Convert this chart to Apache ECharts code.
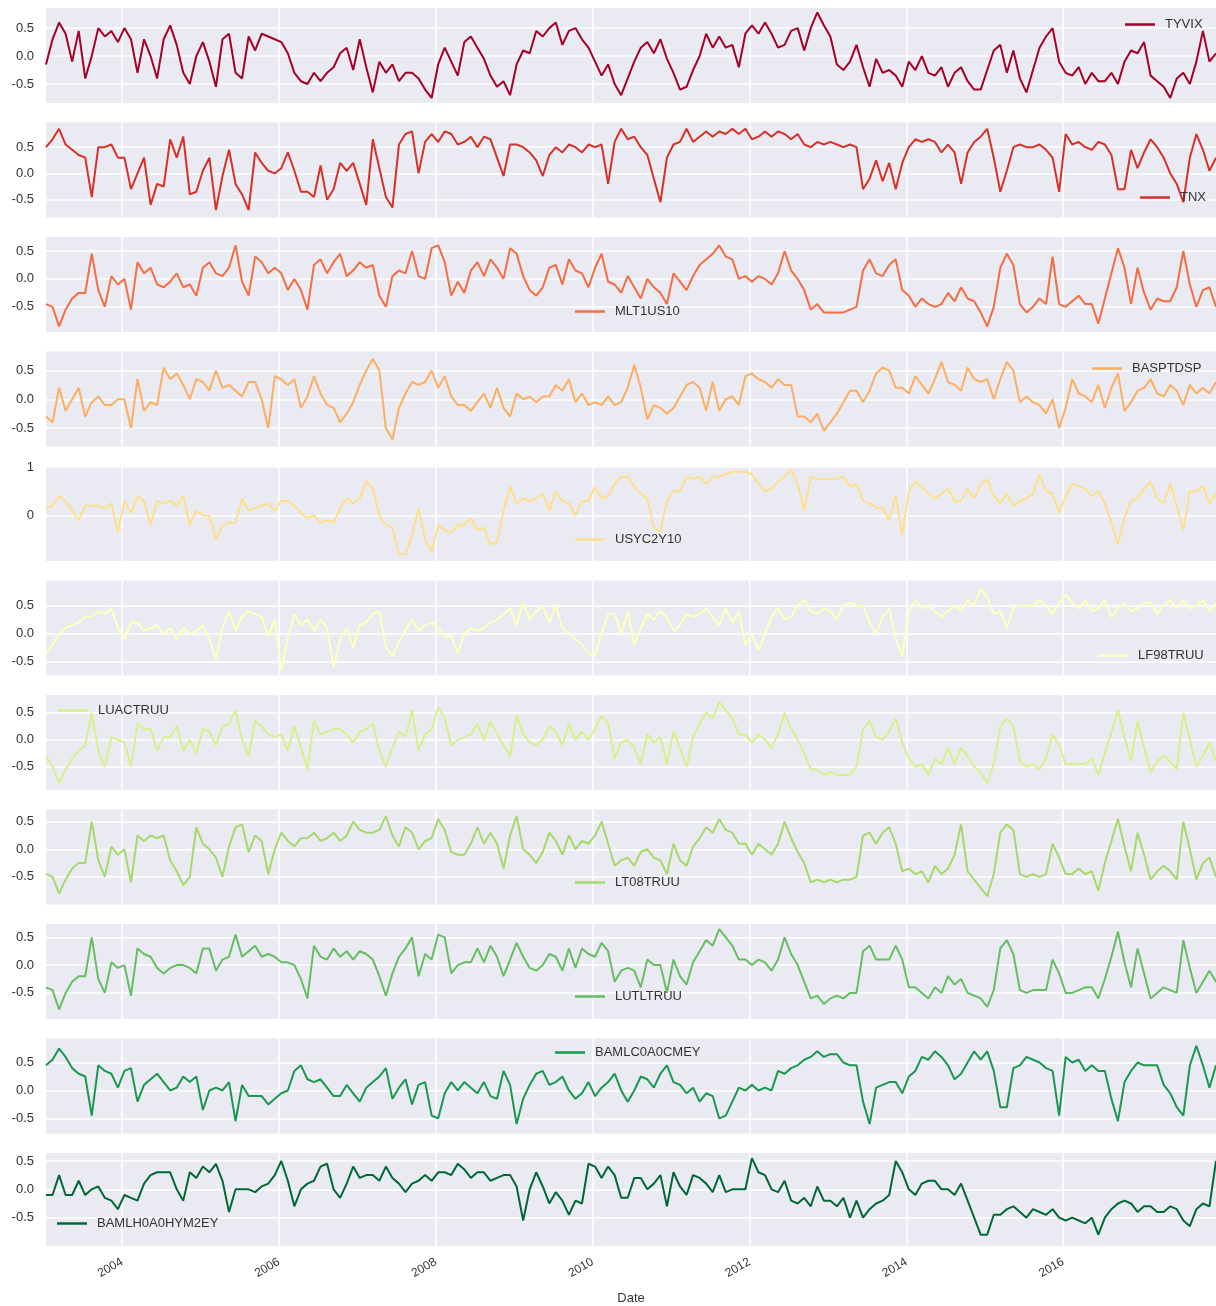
<!DOCTYPE html>
<html>
<head>
<meta charset="utf-8">
<title>Rolling correlations</title>
<script src="https://cdn.jsdelivr.net/npm/echarts@6/dist/echarts.min.js"></script>
<style>
  html, body { margin: 0; padding: 0; background: #ffffff; }
  #chart { width: 1216px; height: 1306px; }
</style>
</head>
<body>
<div id="chart"></div>
<script>
// Monthly observations, January 2003 to December 2017
const START_YEAR = 2003;
const MONTHS = 180;

const seriesNames = ['TYVIX', 'TNX', 'MLT1US10', 'BASPTDSP', 'USYC2Y10', 'LF98TRUU',
  'LUACTRUU', 'LT08TRUU', 'LUTLTRUU', 'BAMLC0A0CMEY', 'BAMLH0A0HYM2EY'];

const TYVIX = [
  -0.15, 0.3, 0.6, 0.4, -0.1, 0.45, -0.4, 0.0, 0.5, 0.35, 0.45, 0.25,
  0.5, 0.3, -0.3, 0.3, 0.0, -0.4, 0.3, 0.55, 0.2, -0.3, -0.5, 0.0,
  0.25, -0.1, -0.55, 0.3, 0.4, -0.3, -0.4, 0.35, 0.1, 0.4, 0.35, 0.3,
  0.25, 0.05, -0.3, -0.45, -0.5, -0.3, -0.45, -0.3, -0.2, 0.05, 0.15, -0.25,
  0.3, -0.2, -0.65, -0.1, -0.3, -0.15, -0.45, -0.3, -0.3, -0.4, -0.6, -0.75,
  -0.15, 0.15, -0.1, -0.35, 0.25, 0.35, 0.15, -0.05, -0.35, -0.55, -0.45, -0.7,
  -0.15, 0.1, 0.05, 0.45, 0.35, 0.5, 0.6, 0.2, 0.45, 0.5, 0.3, 0.15,
  -0.1, -0.35, -0.15, -0.5, -0.7, -0.4, -0.1, 0.15, 0.25, 0.05, 0.3, -0.05,
  -0.3, -0.6, -0.55, -0.25, 0.0, 0.4, 0.15, 0.35, 0.15, 0.2, -0.2, 0.4,
  0.55, 0.4, 0.6, 0.4, 0.15, 0.2, 0.45, 0.5, 0.1, 0.5, 0.78, 0.55,
  0.35, -0.15, -0.25, -0.1, 0.2, -0.2, -0.55, -0.05, -0.3, -0.25, -0.35, -0.55,
  -0.1, -0.25, 0.0, -0.3, -0.35, -0.2, -0.55, -0.3, -0.2, -0.45, -0.6, -0.6,
  -0.25, 0.1, 0.2, -0.3, 0.1, -0.4, -0.65, -0.25, 0.15, 0.35, 0.5, -0.1,
  -0.3, -0.35, -0.2, -0.5, -0.3, -0.45, -0.45, -0.3, -0.5, -0.1, 0.1, 0.05,
  0.25, -0.35, -0.45, -0.55, -0.75, -0.4, -0.3, -0.5, -0.1, 0.45, -0.1, 0.05
];

const TNX = [
  0.5, 0.65, 0.85, 0.55, 0.45, 0.35, 0.3, -0.45, 0.5, 0.5, 0.55, 0.3,
  0.3, -0.3, 0.0, 0.3, -0.6, -0.2, -0.25, 0.65, 0.3, 0.7, -0.4, -0.35,
  0.05, 0.3, -0.7, -0.05, 0.45, -0.2, -0.4, -0.7, 0.4, 0.2, 0.05, 0.0,
  0.1, 0.4, 0.05, -0.35, -0.35, -0.45, 0.15, -0.5, -0.3, 0.2, 0.05, 0.2,
  -0.2, -0.6, 0.65, 0.1, -0.45, -0.65, 0.55, 0.75, 0.8, 0.0, 0.6, 0.75,
  0.6, 0.8, 0.75, 0.55, 0.6, 0.7, 0.5, 0.7, 0.65, 0.3, -0.05, 0.55,
  0.55, 0.5, 0.4, 0.25, -0.05, 0.35, 0.5, 0.4, 0.55, 0.5, 0.4, 0.55,
  0.5, 0.55, -0.2, 0.6, 0.85, 0.65, 0.7, 0.5, 0.35, -0.1, -0.55, 0.3,
  0.55, 0.6, 0.85, 0.6, 0.7, 0.8, 0.7, 0.8, 0.75, 0.85, 0.75, 0.85,
  0.65, 0.7, 0.8, 0.7, 0.8, 0.75, 0.65, 0.75, 0.55, 0.5, 0.6, 0.55,
  0.6, 0.55, 0.5, 0.55, 0.5, -0.3, -0.1, 0.25, -0.15, 0.2, -0.3, 0.2,
  0.5, 0.65, 0.6, 0.65, 0.6, 0.4, 0.55, 0.4, -0.2, 0.4, 0.6, 0.7,
  0.85, 0.3, -0.35, 0.05, 0.5, 0.55, 0.5, 0.5, 0.55, 0.45, 0.3, -0.35,
  0.75, 0.55, 0.6, 0.5, 0.45, 0.6, 0.55, 0.35, -0.3, -0.3, 0.45, 0.1,
  0.4, 0.65, 0.5, 0.3, 0.0, -0.2, -0.55, 0.3, 0.75, 0.45, 0.05, 0.3
];

const MLT1US10 = [
  -0.45, -0.5, -0.85, -0.55, -0.35, -0.25, -0.25, 0.45, -0.2, -0.5, 0.05, -0.1,
  0.0, -0.55, 0.3, 0.1, 0.2, -0.1, -0.15, -0.05, 0.1, -0.15, -0.1, -0.3,
  0.2, 0.3, 0.1, 0.05, 0.2, 0.6, -0.05, -0.3, 0.4, 0.3, 0.1, 0.2,
  0.1, -0.2, 0.0, -0.2, -0.55, 0.25, 0.35, 0.1, 0.3, 0.45, 0.05, 0.15,
  0.3, 0.2, 0.25, -0.3, -0.5, 0.05, 0.15, 0.1, 0.5, 0.05, 0.0, 0.55,
  0.6, 0.3, -0.3, -0.05, -0.25, 0.15, 0.3, 0.05, 0.35, 0.2, 0.0, 0.55,
  0.45, 0.05, -0.2, -0.3, -0.15, 0.2, 0.25, -0.1, 0.35, 0.15, 0.1, -0.15,
  0.2, 0.45, -0.05, -0.1, -0.25, 0.05, -0.15, -0.35, 0.0, -0.15, -0.25, -0.45,
  0.1, -0.05, -0.2, 0.05, 0.25, 0.35, 0.45, 0.6, 0.4, 0.35, 0.0, 0.05,
  -0.05, 0.05, 0.0, -0.1, 0.1, 0.5, 0.15, 0.0, -0.2, -0.55, -0.45, -0.6,
  -0.6, -0.6, -0.6, -0.55, -0.5, 0.15, 0.35, 0.1, 0.05, 0.25, 0.35, -0.2,
  -0.3, -0.5, -0.35, -0.45, -0.5, -0.45, -0.25, -0.4, -0.15, -0.35, -0.4, -0.6,
  -0.85, -0.5, 0.2, 0.45, 0.25, -0.45, -0.6, -0.5, -0.35, -0.45, 0.4, -0.45,
  -0.5, -0.4, -0.3, -0.45, -0.45, -0.8, -0.35, 0.1, 0.55, 0.2, -0.45, 0.2,
  -0.25, -0.55, -0.35, -0.4, -0.4, -0.15, 0.5, -0.1, -0.5, -0.2, -0.15, -0.5
];

const BASPTDSP = [
  -0.3, -0.4, 0.2, -0.2, 0.0, 0.2, -0.3, -0.05, 0.05, -0.1, -0.1, 0.0,
  0.0, -0.5, 0.35, -0.2, -0.05, -0.1, 0.55, 0.35, 0.45, 0.25, 0.0, 0.35,
  0.3, 0.15, 0.5, 0.2, 0.25, 0.15, 0.05, 0.3, 0.3, 0.0, -0.5, 0.4,
  0.35, 0.25, 0.35, -0.15, 0.05, 0.4, 0.1, -0.1, -0.15, -0.4, -0.25, -0.05,
  0.25, 0.5, 0.7, 0.5, -0.5, -0.7, -0.15, 0.1, 0.3, 0.25, 0.3, 0.5,
  0.2, 0.4, 0.05, -0.1, -0.1, -0.2, -0.05, 0.1, -0.15, 0.2, -0.15, -0.3,
  0.1, 0.0, 0.05, -0.05, 0.05, 0.05, 0.25, 0.15, 0.35, -0.05, 0.1, -0.1,
  -0.05, -0.1, 0.05, -0.1, -0.05, 0.2, 0.6, 0.2, -0.35, -0.1, -0.15, -0.25,
  -0.15, 0.05, 0.25, 0.3, 0.2, -0.2, 0.3, -0.2, 0.0, 0.05, -0.1, 0.4,
  0.45, 0.35, 0.3, 0.2, 0.35, 0.25, 0.25, -0.3, -0.3, -0.4, -0.25, -0.55,
  -0.4, -0.25, -0.05, 0.15, 0.15, -0.05, 0.15, 0.45, 0.55, 0.5, 0.2, 0.2,
  0.1, 0.4, 0.25, 0.1, 0.35, 0.65, 0.3, 0.25, 0.15, 0.55, 0.35, 0.3,
  0.35, 0.0, 0.35, 0.65, 0.5, -0.05, 0.05, -0.05, -0.1, -0.25, 0.0, -0.5,
  -0.15, 0.35, 0.1, 0.05, -0.05, 0.25, -0.15, 0.2, 0.45, -0.2, -0.05, 0.15,
  0.2, 0.35, 0.1, 0.05, 0.25, 0.15, -0.1, 0.25, 0.1, 0.2, 0.1, 0.3
];

const USYC2Y10 = [
  0.15, 0.2, 0.4, 0.3, 0.1, -0.1, 0.2, 0.2, 0.2, 0.15, 0.25, -0.35,
  0.3, 0.05, 0.4, 0.3, -0.2, 0.3, 0.25, 0.3, 0.2, 0.4, -0.2, 0.1,
  0.0, 0.0, -0.5, -0.2, -0.15, -0.15, 0.35, 0.1, 0.15, 0.2, 0.25, 0.1,
  0.3, 0.3, 0.2, 0.05, -0.05, 0.0, -0.15, -0.1, -0.15, 0.15, 0.35, 0.25,
  0.35, 0.7, 0.55, 0.0, -0.2, -0.25, -0.8, -0.8, -0.4, 0.15, -0.5, -0.75,
  -0.2, -0.3, -0.35, -0.2, -0.2, -0.05, -0.3, -0.25, -0.6, -0.55, 0.1, 0.6,
  0.25, 0.35, 0.3, 0.35, 0.45, 0.1, 0.5, 0.3, 0.25, 0.0, 0.3, 0.3,
  0.6, 0.35, 0.4, 0.65, 0.8, 0.8, 0.6, 0.45, 0.35, -0.25, -0.35, 0.3,
  0.5, 0.5, 0.8, 0.75, 0.8, 0.65, 0.8, 0.8, 0.85, 0.9, 0.9, 0.9,
  0.85, 0.65, 0.5, 0.55, 0.7, 0.8, 0.95, 0.65, 0.1, 0.8, 0.75, 0.75,
  0.75, 0.75, 0.8, 0.6, 0.65, 0.3, 0.25, 0.15, 0.15, -0.1, 0.4, -0.4,
  0.5, 0.7, 0.6, 0.45, 0.35, 0.45, 0.55, 0.3, 0.3, 0.55, 0.35, 0.65,
  0.75, 0.4, 0.25, 0.45, 0.2, 0.3, 0.35, 0.45, 0.85, 0.5, 0.45, 0.05,
  0.4, 0.65, 0.6, 0.55, 0.4, 0.5, 0.25, -0.15, -0.6, -0.05, 0.3, 0.35,
  0.55, 0.7, 0.35, 0.25, 0.65, 0.2, -0.3, 0.5, 0.5, 0.6, 0.25, 0.45
];

const LF98TRUU = [
  -0.35, -0.2, 0.0, 0.1, 0.15, 0.2, 0.3, 0.3, 0.4, 0.35, 0.45, 0.1,
  -0.1, 0.2, 0.2, 0.05, 0.1, 0.15, 0.0, 0.1, -0.1, 0.1, 0.0, 0.05,
  0.15, -0.1, -0.45, 0.1, 0.4, 0.05, 0.3, 0.4, 0.35, 0.3, -0.05, 0.25,
  -0.65, -0.1, 0.35, 0.15, 0.25, 0.05, 0.25, 0.1, -0.6, -0.1, 0.1, -0.25,
  0.15, 0.2, 0.35, 0.4, -0.25, -0.4, -0.15, 0.05, 0.25, 0.05, 0.15, 0.2,
  0.1, -0.05, -0.05, -0.35, 0.0, 0.1, 0.05, 0.1, 0.2, 0.25, 0.35, 0.45,
  0.15, 0.55, 0.25, 0.4, 0.5, 0.2, 0.5, 0.1, 0.0, -0.1, -0.2, -0.35,
  -0.4, 0.0, 0.35, 0.35, 0.0, 0.4, -0.2, 0.1, 0.35, 0.25, 0.4, 0.3,
  0.05, 0.15, 0.35, 0.3, 0.35, 0.45, 0.3, 0.15, 0.45, 0.2, 0.4, -0.2,
  0.0, -0.3, 0.0, 0.3, 0.45, 0.25, 0.3, 0.5, 0.6, 0.4, 0.35, 0.45,
  0.4, 0.25, 0.5, 0.55, 0.5, 0.5, 0.2, 0.0, 0.3, 0.45, -0.1, -0.4,
  0.4, 0.6, 0.45, 0.5, 0.4, 0.3, 0.4, 0.5, 0.4, 0.6, 0.5, 0.8,
  0.65, 0.35, 0.4, 0.1, 0.45, 0.5, 0.5, 0.5, 0.6, 0.5, 0.35, 0.55,
  0.7, 0.55, 0.45, 0.6, 0.4, 0.45, 0.6, 0.3, 0.45, 0.55, 0.4, 0.45,
  0.55, 0.55, 0.35, 0.5, 0.6, 0.45, 0.6, 0.45, 0.5, 0.6, 0.4, 0.55
];

const LUACTRUU = [
  -0.3, -0.5, -0.8, -0.55, -0.35, -0.2, -0.1, 0.5, -0.2, -0.5, 0.05, 0.0,
  -0.05, -0.5, 0.3, 0.2, 0.2, -0.2, 0.05, 0.05, 0.25, -0.2, 0.0, -0.25,
  0.2, 0.15, -0.1, 0.25, 0.3, 0.55, 0.0, -0.3, 0.35, 0.25, 0.1, 0.05,
  0.1, -0.2, 0.25, -0.15, -0.55, 0.35, 0.1, 0.15, 0.2, 0.2, 0.1, -0.05,
  0.15, 0.2, 0.3, -0.2, -0.5, -0.15, 0.15, 0.05, 0.55, -0.2, 0.1, 0.2,
  0.6, 0.4, -0.1, 0.0, 0.05, 0.1, 0.3, 0.0, 0.35, 0.1, -0.1, -0.3,
  0.45, 0.1, -0.05, -0.1, 0.0, 0.25, 0.15, -0.1, 0.3, 0.0, 0.15, 0.0,
  0.2, 0.45, 0.3, -0.35, -0.05, 0.0, -0.15, -0.45, 0.1, -0.05, 0.05, -0.45,
  0.15, -0.15, -0.5, 0.05, 0.3, 0.5, 0.4, 0.7, 0.55, 0.4, 0.1, 0.1,
  -0.05, 0.1, 0.0, -0.15, 0.1, 0.5, 0.2, 0.0, -0.25, -0.55, -0.55, -0.65,
  -0.6, -0.65, -0.65, -0.65, -0.5, 0.2, 0.35, 0.05, 0.0, 0.15, 0.4, -0.05,
  -0.35, -0.5, -0.45, -0.65, -0.35, -0.45, -0.15, -0.45, -0.15, -0.3, -0.5, -0.6,
  -0.8, -0.45, 0.25, 0.4, 0.25, -0.4, -0.5, -0.45, -0.55, -0.35, 0.1, -0.1,
  -0.45, -0.45, -0.45, -0.45, -0.35, -0.65, -0.25, 0.15, 0.55, 0.05, -0.4, 0.35,
  -0.15, -0.6, -0.4, -0.3, -0.4, -0.55, 0.5, 0.0, -0.5, -0.3, -0.05, -0.4
];

const LT08TRUU = [
  -0.45, -0.5, -0.8, -0.55, -0.35, -0.25, -0.25, 0.5, -0.2, -0.5, 0.05, -0.1,
  0.0, -0.6, 0.25, 0.15, 0.25, 0.2, 0.25, -0.2, -0.4, -0.65, -0.5, 0.4,
  0.1, 0.0, -0.15, -0.5, 0.05, 0.4, 0.45, -0.05, 0.25, 0.15, -0.45, 0.0,
  0.3, 0.15, 0.05, 0.2, 0.2, 0.3, 0.15, 0.2, 0.3, 0.15, 0.25, 0.5,
  0.35, 0.3, 0.3, 0.35, 0.6, 0.25, 0.05, 0.4, 0.3, 0.0, 0.15, 0.2,
  0.55, 0.35, -0.05, -0.1, -0.1, 0.1, 0.4, 0.1, 0.3, 0.1, -0.35, 0.25,
  0.6, 0.0, -0.1, -0.25, -0.05, 0.3, 0.15, -0.1, 0.25, 0.0, 0.15, 0.1,
  0.25, 0.5, 0.1, -0.3, -0.2, -0.15, -0.3, -0.05, 0.0, -0.15, -0.2, -0.45,
  0.1, -0.2, -0.3, 0.05, 0.2, 0.4, 0.3, 0.55, 0.35, 0.3, 0.1, 0.1,
  -0.1, 0.1, 0.0, -0.1, 0.1, 0.5, 0.2, -0.05, -0.25, -0.6, -0.55, -0.6,
  -0.55, -0.6, -0.55, -0.55, -0.5, 0.25, 0.3, 0.1, 0.3, 0.4, 0.1, -0.4,
  -0.35, -0.45, -0.4, -0.6, -0.3, -0.45, -0.35, -0.1, 0.45, -0.4, -0.55, -0.7,
  -0.85, -0.45, 0.3, 0.45, 0.35, -0.45, -0.5, -0.45, -0.5, -0.45, 0.1, -0.15,
  -0.45, -0.45, -0.35, -0.45, -0.4, -0.75, -0.25, 0.15, 0.55, 0.05, -0.4, 0.3,
  -0.1, -0.55, -0.4, -0.3, -0.4, -0.55, 0.5, 0.0, -0.55, -0.25, -0.15, -0.5
];

const LUTLTRUU = [
  -0.4, -0.45, -0.8, -0.5, -0.3, -0.2, -0.2, 0.5, -0.25, -0.5, 0.05, -0.05,
  0.0, -0.55, 0.3, 0.2, 0.15, -0.05, -0.15, -0.05, 0.0, 0.0, -0.05, -0.15,
  0.3, 0.3, -0.1, 0.1, 0.15, 0.55, 0.15, 0.25, 0.35, 0.15, 0.2, 0.15,
  0.05, 0.05, 0.0, -0.25, -0.6, 0.35, 0.15, 0.1, 0.3, 0.15, 0.25, 0.1,
  0.25, 0.2, 0.1, -0.2, -0.55, -0.15, 0.15, 0.3, 0.5, -0.2, 0.2, 0.1,
  0.55, 0.5, -0.15, 0.0, 0.05, 0.05, 0.3, 0.05, 0.35, 0.15, -0.2, 0.1,
  0.4, 0.15, -0.05, -0.1, 0.0, 0.2, 0.15, -0.1, 0.3, -0.05, 0.3, 0.2,
  0.15, 0.4, 0.25, -0.3, -0.1, -0.05, -0.1, -0.4, 0.1, 0.0, 0.0, -0.5,
  0.1, -0.2, -0.35, 0.05, 0.25, 0.45, 0.35, 0.65, 0.5, 0.35, 0.1, 0.1,
  0.0, 0.1, 0.05, -0.1, 0.1, 0.5, 0.2, 0.0, -0.3, -0.6, -0.55, -0.7,
  -0.6, -0.55, -0.6, -0.5, -0.5, 0.25, 0.35, 0.1, 0.1, 0.1, 0.35, 0.1,
  -0.4, -0.4, -0.5, -0.6, -0.4, -0.5, -0.2, -0.35, -0.25, -0.5, -0.55, -0.6,
  -0.75, -0.45, 0.3, 0.45, 0.2, -0.45, -0.5, -0.45, -0.45, -0.45, 0.1, -0.15,
  -0.5, -0.5, -0.45, -0.4, -0.4, -0.6, -0.25, 0.15, 0.6, 0.05, -0.4, 0.3,
  -0.15, -0.6, -0.5, -0.4, -0.45, -0.5, 0.45, -0.05, -0.5, -0.3, -0.1, -0.3
];

const BAMLC0A0CMEY = [
  0.45, 0.55, 0.75, 0.6, 0.4, 0.3, 0.25, -0.45, 0.45, 0.35, 0.3, 0.05,
  0.35, 0.4, -0.2, 0.1, 0.2, 0.3, 0.15, 0.0, 0.05, 0.25, 0.15, 0.25,
  -0.35, 0.0, 0.05, 0.0, 0.15, -0.55, 0.1, -0.1, -0.1, -0.1, -0.25, -0.15,
  -0.05, 0.0, 0.35, 0.45, 0.2, 0.15, 0.2, 0.05, -0.1, -0.1, 0.1, -0.05,
  -0.2, 0.05, 0.15, 0.25, 0.4, -0.15, 0.05, 0.2, -0.25, 0.1, 0.15, -0.45,
  -0.5, -0.05, 0.15, 0.0, 0.15, 0.05, -0.05, 0.15, -0.1, -0.15, 0.35, 0.1,
  -0.6, -0.15, 0.1, 0.3, 0.35, 0.1, 0.15, 0.25, 0.0, -0.15, -0.05, 0.15,
  -0.1, 0.05, 0.15, 0.3, 0.0, -0.2, 0.0, 0.25, 0.2, 0.05, 0.3, 0.45,
  0.15, 0.1, -0.05, 0.05, -0.2, -0.05, -0.1, -0.5, -0.45, -0.2, 0.05, 0.0,
  0.1, 0.0, 0.05, 0.0, 0.35, 0.3, 0.4, 0.45, 0.55, 0.6, 0.7, 0.6,
  0.65, 0.65, 0.5, 0.45, 0.45, -0.2, -0.6, 0.05, 0.1, 0.15, 0.15, -0.05,
  0.25, 0.35, 0.6, 0.55, 0.7, 0.6, 0.45, 0.2, 0.3, 0.5, 0.7, 0.55,
  0.7, 0.35, -0.3, -0.3, 0.4, 0.45, 0.6, 0.55, 0.5, 0.4, 0.35, -0.45,
  0.6, 0.5, 0.55, 0.35, 0.45, 0.35, 0.35, -0.15, -0.55, 0.15, 0.35, 0.5,
  0.45, 0.45, 0.45, 0.1, -0.05, -0.3, -0.45, 0.45, 0.8, 0.45, 0.05, 0.45
];

const BAMLH0A0HYM2EY = [
  -0.1, -0.1, 0.25, -0.1, -0.1, 0.15, -0.1, 0.0, 0.05, -0.15, -0.2, -0.35,
  -0.1, -0.15, -0.2, 0.1, 0.25, 0.3, 0.3, 0.3, 0.0, -0.2, 0.3, 0.2,
  0.4, 0.3, 0.45, 0.15, -0.4, 0.0, 0.0, 0.0, -0.05, 0.05, 0.1, 0.25,
  0.5, 0.15, -0.3, 0.0, 0.1, 0.15, 0.4, 0.45, 0.0, -0.15, 0.1, 0.4,
  0.2, 0.25, 0.25, 0.15, 0.4, 0.2, 0.1, -0.05, 0.1, 0.15, 0.25, 0.15,
  0.3, 0.3, 0.25, 0.45, 0.35, 0.2, 0.3, 0.3, 0.15, 0.2, 0.25, 0.25,
  0.05, -0.55, 0.0, 0.3, 0.05, -0.25, -0.05, -0.2, -0.45, -0.2, -0.25, 0.45,
  0.4, 0.2, 0.4, 0.25, -0.15, -0.15, 0.2, 0.2, 0.0, 0.1, 0.25, -0.3,
  0.3, 0.05, -0.1, 0.25, 0.2, 0.1, -0.05, 0.25, -0.05, 0.0, 0.0, 0.0,
  0.55, 0.3, 0.25, 0.0, -0.05, 0.15, -0.2, -0.25, -0.15, -0.3, 0.05, -0.2,
  -0.2, -0.3, -0.15, -0.5, -0.2, -0.5, -0.35, -0.25, -0.2, -0.1, 0.5, 0.3,
  0.0, -0.1, 0.1, 0.15, 0.15, 0.0, 0.0, -0.1, 0.1, -0.2, -0.5, -0.8,
  -0.8, -0.45, -0.45, -0.35, -0.3, -0.4, -0.5, -0.35, -0.4, -0.45, -0.35, -0.5,
  -0.55, -0.5, -0.55, -0.6, -0.5, -0.8, -0.5, -0.35, -0.25, -0.2, -0.25, -0.4,
  -0.3, -0.3, -0.4, -0.4, -0.3, -0.35, -0.55, -0.65, -0.35, -0.25, -0.3, 0.5
];

const seriesValues = [TYVIX, TNX, MLT1US10, BASPTDSP, USYC2Y10, LF98TRUU,
  LUACTRUU, LT08TRUU, LUTLTRUU, BAMLC0A0CMEY, BAMLH0A0HYM2EY];

// y-axis extents and tick labels of each panel
const yMin = [-0.84, -0.84, -0.95, -0.82, -0.94, -0.75, -0.93, -1.0, -0.97, -0.77, -1.0];
const yMax = [0.86, 0.97, 0.75, 0.83, 1.02, 0.95, 0.83, 0.72, 0.74, 0.93, 0.64];
const yTickLabels = [
  [-0.5, 0, 0.5], [-0.5, 0, 0.5], [-0.5, 0, 0.5], [-0.5, 0, 0.5], [0, 1], [-0.5, 0, 0.5],
  [-0.5, 0, 0.5], [-0.5, 0, 0.5], [-0.5, 0, 0.5], [-0.5, 0, 0.5], [-0.5, 0, 0.5]
];
// x-axis tick labels (years)
const xTickYears = [2004, 2006, 2008, 2010, 2012, 2014, 2016];

// RdYlGn palette, one colour per panel
const colors = ['#a50026', '#d73027', '#f46d43', '#fdae61', '#fee08b', '#ffffbf',
  '#d9ef8b', '#a6d96a', '#66bd63', '#1a9850', '#006837'];

// legend placement per panel: [left of line sample, vertical centre]
const legendPos = [[1125, 26], [1140, 199], [575, 313], [1092, 370], [575, 541], [1098, 657],
  [58, 712], [575, 884], [575, 998], [555, 1054], [57, 1225]];

const FONT = '"Liberation Sans", Arial, sans-serif';
const TEXT = '#333333';
const PANEL_TOP = 8, PANEL_STEP = 114.5, PANEL_H = 95, PLOT_LEFT = 46;

// decimal-year position of each monthly observation (mid-month)
const dates = [];
for (let k = 0; k < MONTHS; k++) {
  dates.push(START_YEAR + (k + 0.37) / 12);
}
const xMin = dates[0];
const xMax = dates[dates.length - 1];

const grids = [], xAxes = [], yAxes = [], series = [], legends = [];
const last = seriesNames.length - 1;

seriesNames.forEach((name, i) => {
  const top = PANEL_TOP + i * PANEL_STEP;
  grids.push({
    left: PLOT_LEFT, right: 0, top: top, height: PANEL_H,
    show: true, backgroundColor: '#eaeaf2', borderWidth: 0
  });
  xAxes.push({
    gridIndex: i, type: 'value', min: xMin, max: xMax,
    axisLine: { show: false },
    axisTick: { show: false, customValues: xTickYears },
    splitLine: { show: true, lineStyle: { color: '#ffffff', width: 1.5 } },
    axisLabel: {
      show: i === last, customValues: xTickYears, rotate: 30, margin: 15,
      fontFamily: FONT, fontSize: 12, color: TEXT,
      formatter: v => String(Math.round(v))
    },
    name: i === last ? 'Date' : '',
    nameLocation: 'middle', nameGap: 46,
    nameTextStyle: { fontFamily: FONT, fontSize: 13, color: TEXT }
  });
  const integerTicks = yTickLabels[i].includes(1);
  yAxes.push({
    gridIndex: i, type: 'value', min: yMin[i], max: yMax[i],
    axisLine: { show: false },
    axisTick: { show: false, customValues: yTickLabels[i] },
    splitLine: { show: true, lineStyle: { color: '#ffffff', width: 1.5 } },
    axisLabel: {
      customValues: yTickLabels[i], margin: 12,
      fontFamily: FONT, fontSize: 13, color: TEXT,
      formatter: v => integerTicks ? String(Math.round(v)) : Number(v).toFixed(1)
    }
  });
  series.push({
    name: name, type: 'line', xAxisIndex: i, yAxisIndex: i,
    data: dates.map((d, k) => [d, seriesValues[i][k]]),
    showSymbol: false, symbol: 'none', smooth: false,
    lineStyle: { color: colors[i], width: 2 },
    itemStyle: { color: colors[i] },
    silent: true, animation: false
  });
  legends.push({
    data: [name], selectedMode: false,
    left: legendPos[i][0], top: legendPos[i][1] - 8, padding: 0,
    icon: 'rect', itemWidth: 30, itemHeight: 2.5,
    textStyle: { fontFamily: FONT, fontSize: 13, color: TEXT, padding: [0, 0, 0, 5] }
  });
});

const chart = echarts.init(document.getElementById('chart'), null, { renderer: 'canvas' });
chart.setOption({
  animation: false,
  backgroundColor: '#ffffff',
  grid: grids,
  xAxis: xAxes,
  yAxis: yAxes,
  legend: legends,
  series: series
});
</script>
</body>
</html>
